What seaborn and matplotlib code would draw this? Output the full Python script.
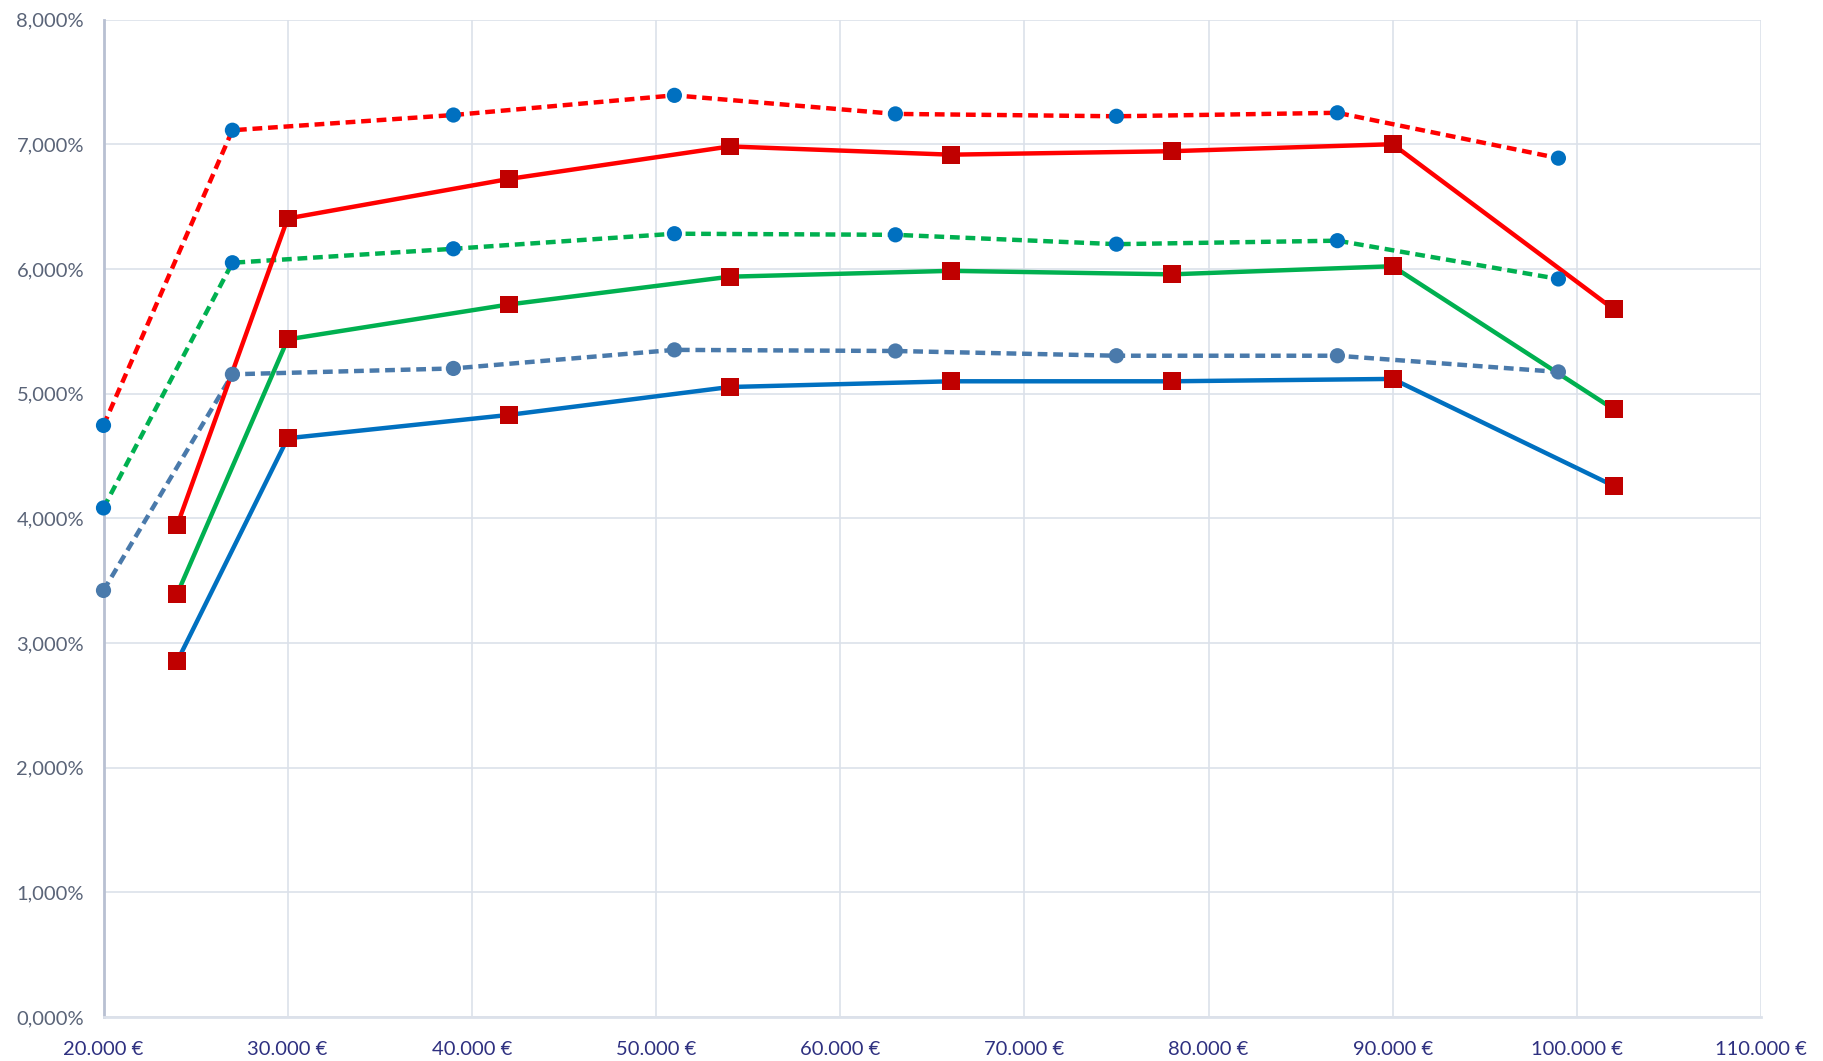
import numpy as np
import pandas as pd
import matplotlib
matplotlib.use("Agg")
import matplotlib.pyplot as plt
import seaborn as sns
from matplotlib.ticker import FuncFormatter, MultipleLocator

# x positions (income in EUR)
x_dashed = [20000, 27000, 39000, 51000, 63000, 75000, 87000, 99000]
x_solid = [24000, 30000, 42000, 54000, 66000, 78000, 90000, 102000]

# rates in %
red_dashed = [4.746, 7.114, 7.236, 7.394, 7.245, 7.226, 7.254, 6.890]
red_solid = [3.944, 6.406, 6.723, 6.984, 6.918, 6.946, 7.002, 5.678]
green_dashed = [4.084, 6.051, 6.163, 6.284, 6.275, 6.200, 6.228, 5.921]
green_solid = [3.394, 5.436, 5.716, 5.939, 5.986, 5.958, 6.023, 4.876]
grey_dashed = [3.422, 5.156, 5.203, 5.352, 5.343, 5.305, 5.305, 5.175]
blue_solid = [2.853, 4.643, 4.830, 5.054, 5.100, 5.100, 5.119, 4.261]

sns.set_style("white")
plt.rcParams['font.family'] = ['Lato', 'DejaVu Sans']

fig = plt.figure(figsize=(18.23, 10.61), dpi=100)
ax = fig.add_axes([103.5 / 1823, 1 - 1017 / 1061, (1761 - 103.5) / 1823, (1017 - 19.8) / 1061])

# (x, y, line colour, marker colour, dashed?, marker)
series = [
    (x_dashed, red_dashed, "#FF0000", "#0070C0", True, "o"),
    (x_dashed, green_dashed, "#00B050", "#0070C0", True, "o"),
    (x_dashed, grey_dashed, "#4A7AAB", "#4A7AAB", True, "o"),
    (x_solid, red_solid, "#FF0000", "#C00000", False, "s"),
    (x_solid, green_solid, "#00B050", "#C00000", False, "s"),
    (x_solid, blue_solid, "#0070C0", "#C00000", False, "s"),
]

for xs, ys, lc, mc, dashed, mk in series:
    df = pd.DataFrame({"x": xs, "y": np.array(ys) / 100})
    sns.lineplot(data=df, x="x", y="y", ax=ax, color=lc, linewidth=3.2,
                 linestyle=(0, (2.2, 1.3)) if dashed else "-", zorder=3)
    sns.scatterplot(data=df, x="x", y="y", ax=ax, color=mc, marker=mk,
                    s=165 if mk == "s" else 120, edgecolor="none", linewidth=0,
                    zorder=4, clip_on=False)

ax.set_xlim(20000, 110000)
ax.set_ylim(0, 0.08)
ax.xaxis.set_major_locator(MultipleLocator(10000))
ax.yaxis.set_major_locator(MultipleLocator(0.01))
ax.xaxis.set_major_formatter(FuncFormatter(lambda v, p: f"{int(v):,}".replace(",", ".") + " €"))
ax.yaxis.set_major_formatter(FuncFormatter(lambda v, p: f"{v * 100:.3f}".replace(".", ",") + "%"))
ax.grid(True, color="#DCE1EA", linewidth=1.2, zorder=0)
ax.set_axisbelow(True)
for side in ["top", "right"]:
    ax.spines[side].set_visible(False)
ax.spines["left"].set_color("#B8C0D2")
ax.spines["left"].set_linewidth(2)
ax.spines["bottom"].set_color("#DCE1EA")
ax.spines["bottom"].set_linewidth(2)
ax.tick_params(axis="x", length=0, pad=17, labelsize=14.5, labelcolor="#2E3080")
ax.tick_params(axis="y", length=0, pad=14, labelsize=14.5, labelcolor="#5A6478")
ax.set_xlabel("")
ax.set_ylabel("")

fig.savefig("out.png", dpi=100)
